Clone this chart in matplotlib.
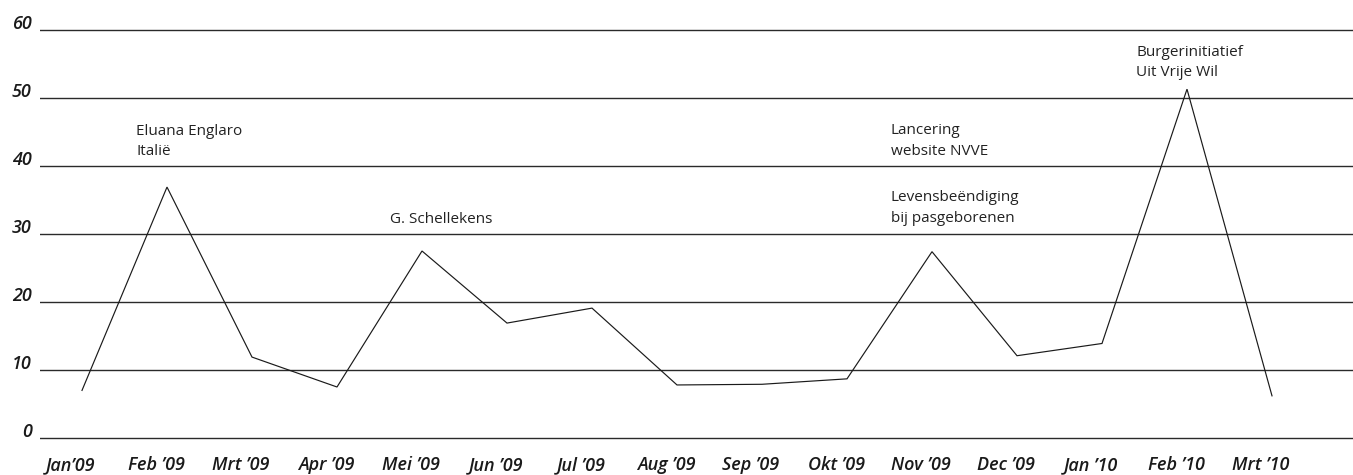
import matplotlib
matplotlib.use("Agg")
import matplotlib.pyplot as plt
from matplotlib.transforms import ScaledTranslation

months = ["Jan’09", "Feb ’09", "Mrt ’09", "Apr ’09", "Mei ’09", "Jun ’09", "Jul ’09",
          "Aug ’09", "Sep ’09", "Okt ’09", "Nov ’09", "Dec ’09", "Jan ’10", "Feb ’10", "Mrt ’10"]
values = [7.0, 36.9, 11.9, 7.5, 27.5, 16.9, 19.1, 7.8, 7.9, 8.7, 27.4, 12.1, 13.9, 51.3, 6.2]
yticks = [0, 10, 20, 30, 40, 50, 60]
ytick_labels = ["0", "10", "20", "30", "40", "50", "60"]

# annotations: (label text, index of month)
events = [
    ("Eluana Englaro\nItalië", 1),
    ("G. Schellekens", 4),
    ("Lancering\nwebsite NVVE", 10),
    ("Levensbeëndiging\nbij pasgeborenen", 10),
    ("Burgerinitiatief\nUit Vrije Wil", 13),
]
# pixel offsets of text (left, last-line baseline) relative to the data point
event_offsets = [(-31, 32), (-32, 28), (-41, 97), (-41, 30), (-51, 13)]

W, H, DPI = 1353, 475, 100
fig = plt.figure(figsize=(W / DPI, H / DPI), dpi=DPI)
# axes: left edge at x=40 px, right edge at figure edge; y from 20 to 448 px (top-based)
top_px, bot_px = 20, 448
ax = fig.add_axes([40 / W, (H - bot_px) / H, 1 - 40 / W, (bot_px - top_px) / H])
ppu = 6.8  # pixels per unit
ax.set_ylim(-(bot_px - 438) / ppu, 60 + (30 - top_px) / ppu)
ax.set_xlim(-(82 - 40) / 85, 14 + (1353 - 1272) / 85)

for s in ax.spines.values():
    s.set_visible(False)

ax.set_yticks(yticks)
ax.set_yticklabels(ytick_labels)
ax.yaxis.grid(True, color="#2a2a2a", linewidth=1.0)
ax.set_axisbelow(True)
ax.tick_params(axis="y", length=0, pad=6)
ax.tick_params(axis="x", length=0, pad=6)

x = list(range(len(values)))
ax.plot(x, values, color="#1a1a1a", linewidth=0.85, solid_joinstyle="miter")

ax.set_xticks(x)
ax.set_xticklabels(months)

tick_font = dict(family=["Open Sans", "DejaVu Sans"], style="italic", weight="semibold", size=13)
for lab in ax.get_xticklabels():
    lab.set(**tick_font, color="#1a1a1a")
    lab.set_transform(lab.get_transform() + ScaledTranslation(-11 / DPI, 0, fig.dpi_scale_trans))
for lab in ax.get_yticklabels():
    lab.set(**tick_font, color="#1a1a1a")
    lab.set_va("baseline")
    lab.set_transform(lab.get_transform() + ScaledTranslation(0, 1 / DPI, fig.dpi_scale_trans))

for (txt, i), (dx, dy) in zip(events, event_offsets):
    ax.annotate(txt, xy=(i, values[i]), xytext=(dx, dy), textcoords="offset pixels",
                ha="left", va="baseline", fontsize=11, color="#222222",
                family=["Open Sans", "DejaVu Sans"], linespacing=1.5)

fig.savefig("out.png", dpi=DPI)
